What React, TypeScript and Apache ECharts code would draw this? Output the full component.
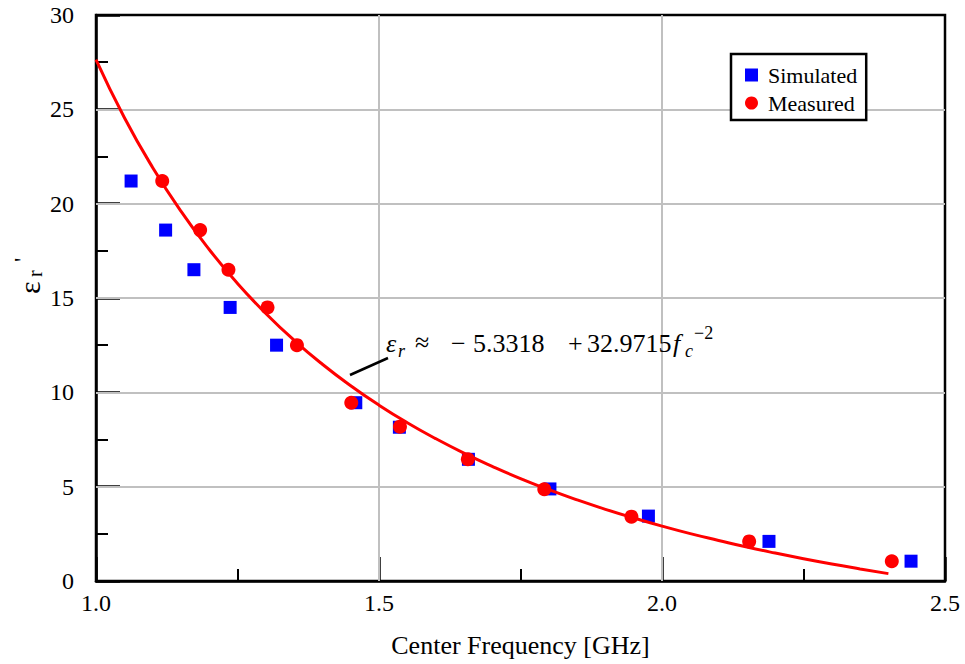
import React, { useEffect, useRef } from "react";
import * as echarts from "echarts";

// Simulated (blue squares)
const simX = [1.062, 1.123, 1.173, 1.237, 1.319, 1.459, 1.536, 1.658, 1.802, 1.976, 2.189, 2.44];
const simY = [21.2, 18.6, 16.5, 14.5, 12.5, 9.45, 8.15, 6.45, 4.88, 3.44, 2.1, 1.05];
// Measured (red circles)
const measX = [1.117, 1.184, 1.234, 1.303, 1.355, 1.451, 1.537, 1.657, 1.792, 1.946, 2.154, 2.406];
const measY = [21.2, 18.6, 16.5, 14.5, 12.5, 9.45, 8.18, 6.45, 4.86, 3.41, 2.1, 1.05];
// Fitted curve
const fitX = [1.0, 1.05, 1.1, 1.15, 1.2, 1.25, 1.3, 1.35, 1.4, 1.45, 1.5, 1.55, 1.6, 1.65, 1.7, 1.75, 1.8, 1.85, 1.9, 1.95, 2.0, 2.05, 2.1, 2.15, 2.2, 2.25, 2.3, 2.35, 2.4];
const fitY = [27.64, 24.57, 21.92, 19.6, 17.57, 15.77, 14.18, 12.76, 11.49, 10.35, 9.32, 8.39, 7.55, 6.78, 6.08, 5.43, 4.84, 4.3, 3.8, 3.34, 2.91, 2.51, 2.15, 1.8, 1.48, 1.18, 0.9, 0.64, 0.39];

const xTicks = { min: 1.0, max: 2.5, interval: 0.5 };
const yTicks = { min: 0, max: 30, interval: 5 };
const xGrid = [1.5, 2.0];
const yGrid = [5, 10, 15, 20, 25];
const legendNames = ["Simulated", "Measured"];
const xTitle = "Center Frequency [GHz]";

const FONT = "Liberation Serif";

export default function App() {
  const ref = useRef<HTMLDivElement>(null);
  useEffect(() => {
    const chart = echarts.init(ref.current!, null, { renderer: "svg" });
    const t = (text: string, x: number, y: number, size: number, italic = false, extra: any = {}) => ({
      type: "text",
      x,
      y,
      z: 10,
      ...extra,
      style: {
        text,
        fontFamily: FONT,
        fontSize: size,
        fontStyle: italic ? "italic" : "normal",
        fill: "#000",
        align: "left",
        verticalAlign: "middle",
      },
    });
    const tickCfg = { show: true, inside: true, length: 24, lineStyle: { color: "#000", width: 2.5 } };
    const minorCfg = { show: true, splitNumber: 2, length: 12, lineStyle: { color: "#000", width: 2 } };
    const labelCfg = { fontFamily: FONT, fontSize: 24, color: "#000" };
    const option: any = {
      animation: false,
      backgroundColor: "#fff",
      grid: {
        left: 96,
        right: 20,
        top: 15,
        bottom: 83,
        show: true,
        borderColor: "#000",
        borderWidth: 2.5,
        backgroundColor: "transparent",
        z: 3,
      },
      legend: {
        data: [
          { name: legendNames[0], icon: "rect" },
          { name: legendNames[1], icon: "circle" },
        ],
        orient: "vertical",
        left: 731,
        top: 54,
        z: 20,
        backgroundColor: "#fff",
        borderColor: "#000",
        borderWidth: 2.5,
        borderRadius: 0,
        padding: [10, 9, 6, 14],
        itemGap: 6,
        itemWidth: 13,
        itemHeight: 13,
        textStyle: {
          fontFamily: FONT,
          fontSize: 22,
          color: "#000",
          lineHeight: 21,
          padding: [0, 0, 0, 5],
        },
      },
      xAxis: {
        type: "value",
        min: xTicks.min,
        max: xTicks.max,
        interval: xTicks.interval,
        z: 3,
        name: xTitle,
        nameLocation: "middle",
        nameGap: 51,
        nameTextStyle: { fontFamily: FONT, fontSize: 26, color: "#000" },
        axisLine: { show: true, onZero: false, lineStyle: { color: "#000", width: 2.5 } },
        axisTick: tickCfg,
        minorTick: minorCfg,
        axisLabel: { ...labelCfg, margin: 10, formatter: (v: number) => v.toFixed(1) },
        splitLine: { show: false },
      },
      yAxis: {
        type: "value",
        min: yTicks.min,
        max: yTicks.max,
        interval: yTicks.interval,
        z: 3,
        axisLine: { show: true, onZero: false, lineStyle: { color: "#000", width: 2.5 } },
        axisTick: tickCfg,
        minorTick: minorCfg,
        axisLabel: { ...labelCfg, margin: 22 },
        splitLine: { show: false },
      },
      series: [
        {
          name: "grid",
          type: "line",
          data: [],
          z: 1,
          silent: true,
          markLine: {
            silent: true,
            symbol: "none",
            label: { show: false },
            lineStyle: { color: "#c0c0c0", width: 2, type: "solid" },
            data: [...xGrid.map((v) => ({ xAxis: v })), ...yGrid.map((v) => ({ yAxis: v }))],
          },
        },
        {
          name: legendNames[0],
          type: "scatter",
          symbol: "rect",
          symbolSize: 13,
          itemStyle: { color: "#0000ff", opacity: 1 },
          data: simX.map((x, i) => [x, simY[i]]),
          z: 5,
        },
        {
          name: "Fit",
          type: "line",
          smooth: true,
          showSymbol: false,
          lineStyle: { color: "#ff0000", width: 3 },
          itemStyle: { color: "#ff0000" },
          data: fitX.map((x, i) => [x, fitY[i]]),
          z: 6,
        },
        {
          name: legendNames[1],
          type: "scatter",
          symbol: "circle",
          symbolSize: 14,
          itemStyle: { color: "#ff0000", opacity: 1 },
          data: measX.map((x, i) => [x, measY[i]]),
          z: 7,
        },
      ],
      graphic: [
        {
          type: "line",
          shape: { x1: 350, y1: 375, x2: 388, y2: 358 },
          style: { stroke: "#000", lineWidth: 2.5 },
          z: 10,
        },
        t("ε", 386, 343, 26, true),
        t("r", 398, 351, 18, true),
        t("≈", 415, 342, 26),
        t("−", 451, 343, 26),
        t("5.3318", 473, 343, 26),
        t("+", 568, 343, 26),
        t("32.9715", 587, 343, 26),
        t("f", 673, 343, 26, true),
        t("c", 685, 351, 18, true),
        t("−2", 694, 333, 18),
        t("ε", 29, 294, 30, false, { rotation: Math.PI / 2 }),
        t("r", 35, 277, 20, false, { rotation: Math.PI / 2 }),
        t("'", 22, 262, 24, false, { rotation: Math.PI / 2 }),
      ],
    };
    chart.setOption(option);
    return () => chart.dispose();
  }, []);
  return (
    <div
      ref={ref}
      style={{ position: "fixed", left: 0, top: 0, width: 965, height: 664, background: "#fff" }}
    />
  );
}
